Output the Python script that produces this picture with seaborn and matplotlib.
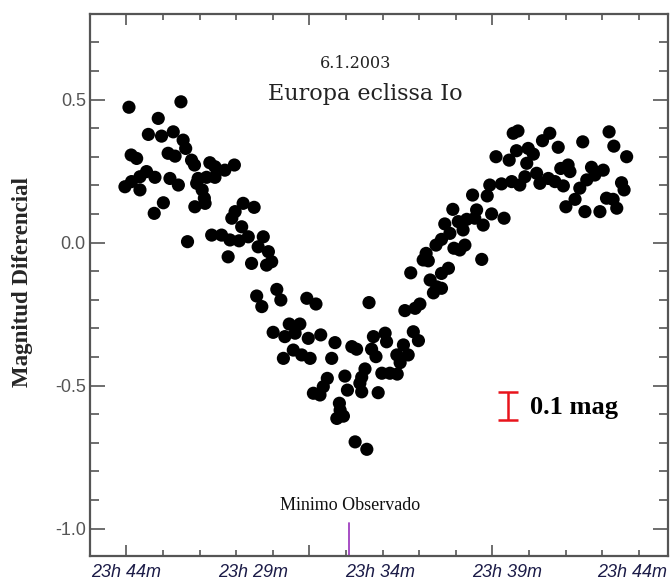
import matplotlib
matplotlib.use("Agg")
import matplotlib.pyplot as plt
import numpy as np
import pandas as pd
import seaborn as sns
from matplotlib.ticker import MultipleLocator, FormatStrFormatter

# ---------------- data (minutes from first tick, differential magnitude) -------------
time_min = [
    0.07, 1.49, 0.87, 0.60, 0.96, 1.28, 1.55, 1.62, 0.13, 0.28,
    1.14, 1.33, 1.78, 1.86, 2.28, 2.42, 2.69, 2.95, 0.55, 0.37,
    0.78, 0.14, -0.04, 0.37, 1.19, 1.42, 1.96, 2.19, 2.42, 1.92,
    2.07, 2.13, 1.87, 2.15, 1.01, 0.76, 1.67, 3.19, 3.49, 2.97,
    2.88, 3.15, 2.33, 2.60, 2.83, 3.08, 3.33, 3.74, 3.60, 3.88,
    2.78,
    3.42, 3.83, 3.97, 3.56, 3.70, 4.11, 4.22, 4.93, 5.18, 4.45,
    4.74, 4.01, 4.33, 4.61, 4.97, 5.31, 5.70, 6.16, 4.29, 4.56,
    4.79, 5.02, 5.61,
    6.63, 7.61, 8.02, 8.39, 6.29, 6.75, 7.07, 7.11, 6.70, 6.82,
    7.57, 7.84, 7.98, 7.70, 7.39, 7.48, 6.52, 6.43, 6.38, 6.98,
    7.20, 7.40, 5.97, 5.49, 5.38, 5.11, 5.29, 6.04, 6.43, 6.88,
    5.82, 5.84, 5.75, 5.93, 6.25, 6.57,
    9.93, 10.25, 10.53, 9.46, 9.86, 8.92, 9.57, 9.98, 10.32, 8.70,
    9.07, 9.30, 9.52, 9.75, 9.20, 8.84, 8.61, 8.46, 8.95, 9.25,
    9.11, 8.19, 8.11, 8.25, 9.71, 7.77, 8.80, 8.61, 8.30, 8.48,
    8.61, 7.89,
    10.57, 10.70, 11.57, 11.37, 11.80, 12.47, 13.19, 13.32, 13.67, 10.10,
    10.46, 10.66, 10.98, 11.12, 10.94, 11.87, 12.07, 12.12, 12.71, 13.03,
    10.75, 10.89, 11.21, 11.30, 11.53, 11.71, 11.94, 12.39, 12.58, 12.80,
    13.53, 13.60, 12.26, 12.01, 12.53, 12.94, 13.12, 13.30, 13.40,
]
magnitude = [
    0.473, 0.492, 0.434, 0.378, 0.372, 0.387, 0.358, 0.329, 0.306, 0.294,
    0.312, 0.302, 0.288, 0.271, 0.279, 0.265, 0.253, 0.271, 0.248, 0.230,
    0.228, 0.213, 0.195, 0.184, 0.224, 0.201, 0.224, 0.228, 0.228, 0.207,
    0.184, 0.155, 0.125, 0.137, 0.139, 0.102, 0.003, 0.137, 0.123, 0.108,
    0.085, 0.055, 0.026, 0.026, 0.009, 0.006, 0.020, 0.020, -0.015, -0.032,
    -0.050,
    -0.073, -0.079, -0.067, -0.187, -0.224, -0.164, -0.201, -0.195, -0.215, -0.285,
    -0.285, -0.314, -0.329, -0.317, -0.335, -0.323, -0.350, -0.364, -0.405, -0.376,
    -0.393, -0.405, -0.405,
    -0.210, -0.238, -0.215, -0.176, -0.373, -0.329, -0.317, -0.347, -0.373, -0.399,
    -0.358, -0.312, -0.343, -0.393, -0.393, -0.420, -0.442, -0.471, -0.492, -0.457,
    -0.457, -0.460, -0.467, -0.475, -0.504, -0.527, -0.533, -0.516, -0.522, -0.525,
    -0.562, -0.586, -0.615, -0.607, -0.697, -0.723,
    0.201, 0.205, 0.213, 0.166, 0.163, 0.116, 0.114, 0.100, 0.085, 0.065,
    0.073, 0.081, 0.085, 0.061, 0.044, 0.032, 0.011, -0.009, -0.020, -0.009,
    -0.026, -0.038, -0.061, -0.064, -0.059, -0.106, -0.090, -0.108, -0.131, -0.155,
    -0.160, -0.230,
    0.382, 0.390, 0.382, 0.356, 0.333, 0.352, 0.387, 0.337, 0.300, 0.300,
    0.288, 0.321, 0.329, 0.309, 0.277, 0.259, 0.271, 0.248, 0.263, 0.253,
    0.201, 0.230, 0.242, 0.207, 0.224, 0.213, 0.198, 0.190, 0.219, 0.236,
    0.209, 0.184, 0.151, 0.125, 0.108, 0.108, 0.155, 0.151, 0.120,
]

time_tick_labels = ["23h 44m", "23h 29m", "23h 34m", "23h 39m", "23h 44m"]
time_tick_label_pos = [0.0, 3.45, 6.92, 10.39, 13.81]
minimum_time = 6.09
minimum_label = "Minimo Observado"
scale_bar_center = -0.571
scale_bar_size = 0.1
scale_bar_time = 10.43
title_date = "6.1.2003"
title_text = "Europa eclissa Io"
y_label = "Magnitud Diferencial"

df = pd.DataFrame({"t": time_min, "mag": magnitude})

# ---------------- figure ----------------
sns.set_style("white")
plt.rcParams["font.family"] = ["Liberation Sans", "DejaVu Sans"]

fig = plt.figure(figsize=(6.71, 5.87), dpi=100)
ax = fig.add_axes([90 / 671, 31 / 587, 578 / 671, 542 / 587])

sns.scatterplot(data=df, x="t", y="mag", ax=ax, color="black", s=90,
                edgecolor="none", linewidth=0, legend=False, zorder=3)

ax.set_xlim(-0.995, 14.80)
ax.set_ylim(-1.096, 0.799)
ax.set_xlabel("")
ax.set_ylabel("")

frame_col = "#555555"
for sp in ax.spines.values():
    sp.set_color(frame_col)
    sp.set_linewidth(1.6)
    sp.set_visible(True)

# x ticks (no labels on main axis)
ax.set_xticks([0, 5, 10])
ax.set_xticks(np.arange(0, 15), minor=True)
ax.set_xticklabels([])
ax.tick_params(axis="x", which="major", direction="in", top=True, bottom=True,
               length=8, width=1.2, color=frame_col)
ax.tick_params(axis="x", which="minor", direction="in", top=True, bottom=True,
               length=4.5, width=1.2, color=frame_col)

# y ticks
ax.set_yticks([-1.0, -0.5, 0.0, 0.5])
ax.yaxis.set_minor_locator(MultipleLocator(0.1))
ax.yaxis.set_major_formatter(FormatStrFormatter("%.1f"))
ax.tick_params(axis="y", which="major", direction="in", left=True, right=True,
               length=11, width=1.2, color=frame_col, labelsize=13,
               labelcolor="#555555", pad=3)
ax.tick_params(axis="y", which="minor", direction="in", left=True, right=True,
               length=6.5, width=1.2, color=frame_col)

# time labels on a secondary axis
sec = ax.secondary_xaxis("bottom")
sec.set_xticks(time_tick_label_pos)
sec.set_xticklabels(time_tick_labels, fontstyle="italic", fontsize=13,
                    color="#1c1c48")
sec.tick_params(length=0, pad=6)
sec.spines["bottom"].set_visible(False)

# titles inside plot
ax.text(0.46, 0.909, title_date, transform=ax.transAxes, ha="center",
        va="center", fontsize=11.5, family="DejaVu Serif", color="#222222")
ax.text(0.477, 0.852, title_text, transform=ax.transAxes, ha="center",
        va="center", fontsize=16, family="DejaVu Serif", color="#222222")

# observed minimum marker
ax.axvline(minimum_time, ymin=0, ymax=(-0.98 + 1.096) / (0.799 + 1.096),
           color="#a040c0", lw=1.3)
ax.text(minimum_time + 0.02, -0.918, minimum_label, ha="center", va="center",
        fontsize=13, family="Liberation Serif", color="#111111")

# scale bar 0.1 mag
ax.errorbar([scale_bar_time], [scale_bar_center], yerr=[scale_bar_size / 2],
            color="#e8141c", capsize=7, capthick=1.8, elinewidth=1.8, fmt="none")
ax.text(scale_bar_time + 0.6, scale_bar_center - 0.005, "0.1 mag", ha="left",
        va="center", fontsize=19, fontweight="bold", family="Liberation Serif",
        color="black")

fig.text(0.033, 0.52, y_label, rotation=90, ha="center", va="center",
         fontsize=16.5, fontweight="bold", family="Liberation Serif")

fig.savefig("out.png", dpi=100)
